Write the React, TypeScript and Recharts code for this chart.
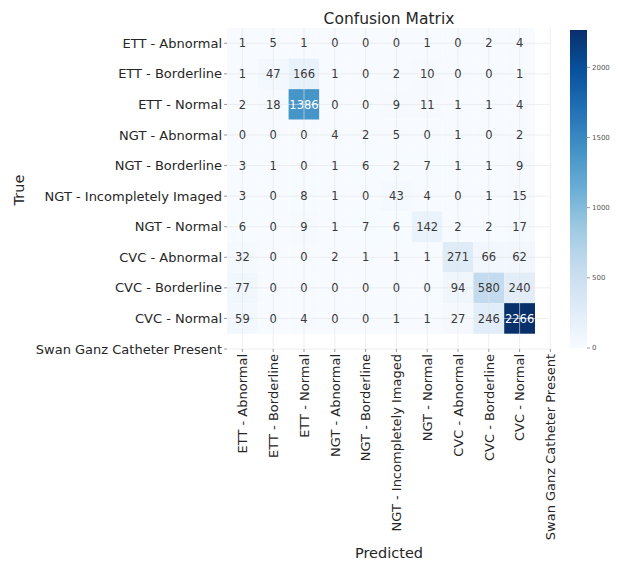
import React from "react"
import {
  ScatterChart,
  XAxis,
  YAxis,
  ReferenceArea,
  ReferenceLine,
} from "recharts"

const classLabels = [
  "ETT - Abnormal",
  "ETT - Borderline",
  "ETT - Normal",
  "NGT - Abnormal",
  "NGT - Borderline",
  "NGT - Incompletely Imaged",
  "NGT - Normal",
  "CVC - Abnormal",
  "CVC - Borderline",
  "CVC - Normal",
  "Swan Ganz Catheter Present",
]

// rows = true class, columns = predicted class
const counts = [
  [1, 5, 1, 0, 0, 0, 1, 0, 2, 4],
  [1, 47, 166, 1, 0, 2, 10, 0, 0, 1],
  [2, 18, 1386, 0, 0, 9, 11, 1, 1, 4],
  [0, 0, 0, 4, 2, 5, 0, 1, 0, 2],
  [3, 1, 0, 1, 6, 2, 7, 1, 1, 9],
  [3, 0, 8, 1, 0, 43, 4, 0, 1, 15],
  [6, 0, 9, 1, 7, 6, 142, 2, 2, 17],
  [32, 0, 0, 2, 1, 1, 1, 271, 66, 62],
  [77, 0, 0, 0, 0, 0, 0, 94, 580, 240],
  [59, 0, 4, 0, 0, 1, 1, 27, 246, 2266],
]

const colorbarTicks = [0, 500, 1000, 1500, 2000]

const blues = [
  "#f7fbff", "#deebf7", "#c6dbef", "#9ecae1", "#6baed6",
  "#4292c6", "#2171b5", "#08519c", "#08306b",
]

const FONT = "DejaVu Sans"
const vmax = Math.max(...counts.flat())

const hexToRgb = (h: string) => [1, 3, 5].map((i) => parseInt(h.slice(i, i + 2), 16))

const bluesRgb = (t: number) => {
  const p = Math.min(Math.max(t, 0), 1) * (blues.length - 1)
  const i = Math.min(Math.floor(p), blues.length - 2)
  const f = p - i
  const a = hexToRgb(blues[i])
  const b = hexToRgb(blues[i + 1])
  return a.map((v, k) => Math.round(v + (b[k] - v) * f))
}

const toHex = (rgb: number[]) => "#" + rgb.map((v) => v.toString(16).padStart(2, "0")).join("")

const luminance = (rgb: number[]) => {
  const c = rgb.map((v) => {
    const s = v / 255
    return s <= 0.03928 ? s / 12.92 : Math.pow((s + 0.055) / 1.055, 2.4)
  })
  return 0.2126 * c[0] + 0.7152 * c[1] + 0.0722 * c[2]
}

const ticks = classLabels.map((_, i) => i + 0.5)
const nameOf = (t: number) => classLabels[Math.round(t - 0.5)] ?? ""

const XTick = (props: any) => {
  const { x, y, payload } = props
  return (
    <g transform={`translate(${x},${y})`}>
      <text
        transform="rotate(-90)"
        textAnchor="end"
        x={0}
        y={0}
        dy={4.7}
        fontSize={13}
        fontFamily={FONT}
        fill="#262626"
      >
        {nameOf(payload.value)}
      </text>
    </g>
  )
}

const App = () => {
  const cells: React.ReactElement[] = []
  counts.forEach((row, r) =>
    row.forEach((v, c) => {
      const rgb = bluesRgb(v / vmax)
      cells.push(
        <ReferenceArea
          key={`c${r}-${c}`}
          x1={c}
          x2={c + 1}
          y1={r}
          y2={r + 1}
          fill={toHex(rgb)}
          fillOpacity={1}
          stroke="none"
          label={{
            value: v,
            position: "center",
            fontSize: 11.5,
            fontFamily: FONT,
            fill: luminance(rgb) > 0.408 ? "#3a3a3a" : "#ffffff",
          }}
        />
      )
    })
  )

  return (
    <div style={{ position: "absolute", left: 0, top: 0, width: 618, height: 563, background: "#fff" }}>
      <div
        style={{
          position: "absolute",
          left: 259,
          top: 10,
          width: 260,
          textAlign: "center",
          fontFamily: FONT,
          fontSize: 15.5,
          lineHeight: "18px",
          color: "#262626",
        }}
      >
        Confusion Matrix
      </div>
      <div style={{ position: "absolute", left: 0, top: 0, width: 618, height: 563 }}>
        <ScatterChart
          width={618}
          height={563}
          margin={{ top: 28, right: 67.6, bottom: 0, left: 0 }}
        >
          <XAxis
            type="number"
            dataKey="x"
            domain={[0, 10.5]}
            ticks={ticks}
            interval={0}
            height={214}
            axisLine={false}
            tickLine={{ stroke: "#9a9a9a" }}
            tickSize={3}
            tickMargin={2}
            tick={<XTick />}
            allowDataOverflow
            label={{
              content: () => (
                <text x={389} y={558} textAnchor="middle" fontSize={14.5} fontFamily={FONT} fill="#262626">
                  Predicted
                </text>
              ),
            }}
          />
          <YAxis
            type="number"
            dataKey="y"
            domain={[0, 10.5]}
            reversed
            ticks={ticks}
            interval={0}
            width={227}
            axisLine={false}
            tickLine={{ stroke: "#9a9a9a" }}
            tickSize={3}
            tickMargin={2}
            tickFormatter={nameOf}
            tick={{ fontSize: 13, fontFamily: FONT, fill: "#262626" }}
            allowDataOverflow
            label={{
              content: () => (
                <text
                  x={0}
                  y={0}
                  transform="translate(24,190) rotate(-90)"
                  textAnchor="middle"
                  fontSize={14.5}
                  fontFamily={FONT}
                  fill="#262626"
                >
                  True
                </text>
              ),
            }}
          />
          {cells}
          {ticks.map((t) => (
            <ReferenceLine key={`gx${t}`} x={t} stroke="#e4e4e4" strokeOpacity={0.6} />
          ))}
          {ticks.map((t) => (
            <ReferenceLine key={`gy${t}`} y={t} stroke="#e4e4e4" strokeOpacity={0.6} />
          ))}
        </ScatterChart>
      </div>
      <div style={{ position: "absolute", left: 540, top: 0, width: 78, height: 563 }}>
        <ScatterChart
          width={78}
          height={563}
          margin={{ top: 30, right: 0, bottom: 215, left: 30 }}
        >
          <defs>
            <linearGradient id="bluesBar" x1="0" y1="1" x2="0" y2="0">
              {blues.map((c, i) => (
                <stop key={c} offset={`${(i / (blues.length - 1)) * 100}%`} stopColor={c} />
              ))}
            </linearGradient>
          </defs>
          <XAxis type="number" dataKey="x" domain={[0, 1]} hide allowDataOverflow />
          <YAxis
            type="number"
            dataKey="y"
            orientation="right"
            domain={[0, vmax]}
            ticks={colorbarTicks}
            interval={0}
            width={31}
            axisLine={false}
            tickLine={{ stroke: "#9a9a9a" }}
            tickSize={3}
            tickMargin={2}
            tick={{ fontSize: 7, fontFamily: FONT, fill: "#555" }}
            allowDataOverflow
          />
          <ReferenceArea
            x1={0}
            x2={1}
            y1={0}
            y2={vmax}
            fill="url(#bluesBar)"
            fillOpacity={1}
            stroke="none"
          />
        </ScatterChart>
      </div>
    </div>
  )
}

export default App
